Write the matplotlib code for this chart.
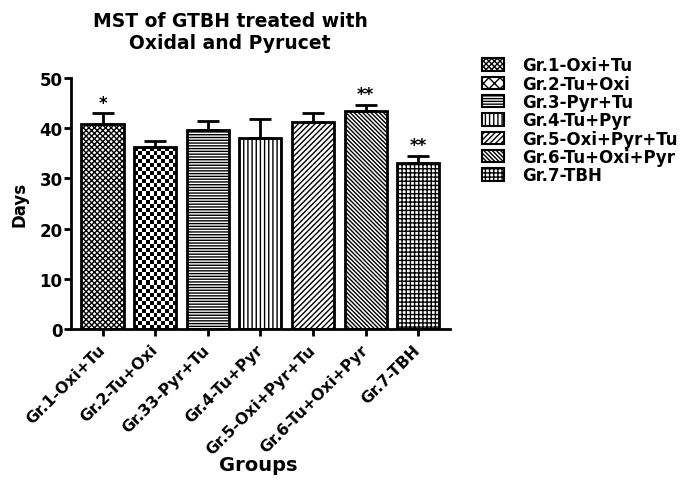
import matplotlib
matplotlib.use('Agg')
import matplotlib.pyplot as plt
import numpy as np
from matplotlib.patches import Patch

plt.rcParams['font.family'] = ['DejaVu Sans']
plt.rcParams['font.weight'] = 'bold'
plt.rcParams['hatch.linewidth'] = 1.0

# data
groups = ['Gr.1-Oxi+Tu', 'Gr.2-Tu+Oxi', 'Gr.33-Pyr+Tu', 'Gr.4-Tu+Pyr',
          'Gr.5-Oxi+Pyr+Tu', 'Gr.6-Tu+Oxi+Pyr', 'Gr.7-TBH']
legend_names = ['Gr.1-Oxi+Tu', 'Gr.2-Tu+Oxi', 'Gr.3-Pyr+Tu', 'Gr.4-Tu+Pyr',
                'Gr.5-Oxi+Pyr+Tu', 'Gr.6-Tu+Oxi+Pyr', 'Gr.7-TBH']
days = [40.9, 36.2, 39.6, 38.1, 41.2, 43.5, 33.1]
sem = [2.1, 1.3, 1.9, 3.8, 1.8, 1.2, 1.4]
stars = ['*', '', '', '', '', '**', '**']
hatches = ['xxxxxx', '', '------', '||||', '//////', '\\\\\\\\\\\\\\\\', '++++']

fig = plt.figure(figsize=(6.85, 4.81), dpi=100)
ax = fig.add_axes([0.1036, 0.3139, 0.553, 0.5218])

x = np.arange(len(groups))
w = 0.8
for i in range(len(groups)):
    fc = 'none' if i == 1 else 'white'
    b = ax.bar(x[i], days[i], width=w, color=fc, edgecolor='black',
               linewidth=2, hatch=hatches[i], zorder=2)[0]
    if i == 1:
        # checkerboard fill for group 2
        nx, ny = 11, int(days[i] / 0.8)
        chk = (np.add.outer(np.arange(ny), np.arange(nx)) % 2).astype(float)
        im = ax.imshow(chk, cmap='gray', extent=(x[i] - w / 2, x[i] + w / 2, 0, days[i]),
                       aspect='auto', interpolation='nearest', zorder=1.5)
        im.set_clip_path(b)
    ax.errorbar(x[i], days[i] + sem[i] / 2, yerr=[[sem[i] / 2], [sem[i] / 2]],
                fmt='none', ecolor='black', elinewidth=2, capsize=8, capthick=2, zorder=3)
    if stars[i]:
        ax.text(x[i], days[i] + sem[i] + 0.3, stars[i], ha='center', va='bottom',
                fontsize=12, fontweight='bold')

ax.set_xlim(-0.6, 6.6)
ax.set_ylim(0, 50)
ax.set_yticks([0, 10, 20, 30, 40, 50])
ax.set_xticks(x)
ax.set_xticklabels(groups, rotation=45, ha='right', va='center', rotation_mode='anchor',
                   fontsize=11.3, fontweight='bold')
ax.tick_params(axis='y', labelsize=12, width=2, length=5, pad=1)
ax.tick_params(axis='x', width=2, length=5, pad=8)
for s in ['top', 'right']:
    ax.spines[s].set_visible(False)
for s in ['left', 'bottom']:
    ax.spines[s].set_linewidth(2)
ax.set_ylabel('Days', fontsize=12, fontweight='bold', labelpad=8)

fig.text(0.377, 0.033, 'Groups', ha='center', va='center', fontsize=14, fontweight='bold')
fig.text(0.336, 0.933, 'MST of GTBH treated with\nOxidal and Pyrucet',
         ha='center', va='center', fontsize=13.5, fontweight='bold', linespacing=1.2)

handles = [Patch(facecolor='white', edgecolor='black', hatch=h, linewidth=1.5)
           for h in hatches]
handles[1] = Patch(facecolor='white', edgecolor='black', hatch='XXX', linewidth=1.5)
fig.legend(handles, legend_names, loc='upper left', bbox_to_anchor=(0.703, 0.881),
           frameon=False, fontsize=12, handlelength=1.35, handleheight=0.75,
           labelspacing=0.02, handletextpad=1.1, borderpad=0, borderaxespad=0)

fig.savefig('out.png', dpi=100)
